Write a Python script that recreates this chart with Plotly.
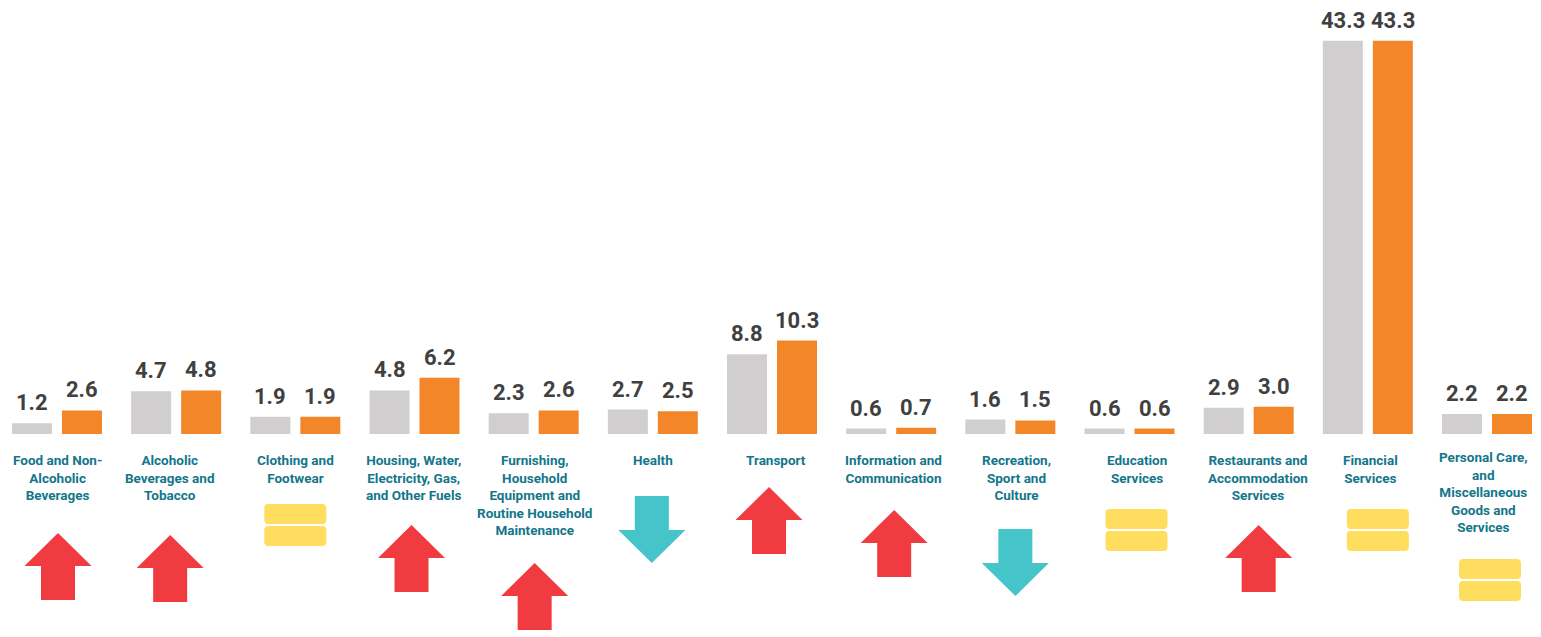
import plotly.graph_objects as go

categories = [
    "Food and Non-<br>Alcoholic<br>Beverages",
    "Alcoholic<br>Beverages and<br>Tobacco",
    "Clothing and<br>Footwear",
    "Housing, Water,<br>Electricity, Gas,<br>and Other Fuels",
    "Furnishing,<br>Household<br>Equipment and<br>Routine Household<br>Maintenance",
    "Health",
    "Transport",
    "Information and<br>Communication",
    "Recreation,<br>Sport and<br>Culture",
    "Education<br>Services",
    "Restaurants and<br>Accommodation<br>Services",
    "Financial<br>Services",
    "Personal Care,<br>and<br>Miscellaneous<br>Goods and<br>Services",
]
previous_values = [1.2, 4.7, 1.9, 4.8, 2.3, 2.7, 8.8, 0.6, 1.6, 0.6, 2.9, 43.3, 2.2]
current_values = [2.6, 4.8, 1.9, 6.2, 2.6, 2.5, 10.3, 0.7, 1.5, 0.6, 3.0, 43.3, 2.2]
directions = ["up", "up", "same", "up", "up", "down", "up", "up", "down", "same", "up", "same", "same"]

# layout-only tuning (pixels)
label_xshift = [0, -6, 0, -1, 1, 0, 4, 2, 6, 7, 9, 3, -4]
label_yshift = [-16, -16, -16, -16, -16, -16, -16, -16, -16, -16, -16, -16, -13]
icon_xshift = [1, -6, 0, -3, 1, -1, -3, 3, 5, 7, 10, 10, 3]
icon_top = [99, 101, 70, 91, 129, 62, 53, 76, 95, 75, 91, 75, 125]

GRAY = "#d0cece"
ORANGE = "#f4862a"
RED = "#f03c40"
TEAL = "#45c4c9"
YELLOW = "#ffdd5f"
LABEL = "#13768a"
VALUE = "#404040"

x = list(range(len(categories)))

fig = go.Figure()
for vals, col, name, side in [(previous_values, GRAY, "Previous", -1), (current_values, ORANGE, "Current", 1)]:
    fig.add_trace(go.Bar(
        x=x, y=vals, name=name, marker=dict(color=col, line=dict(width=0)),
        hoverinfo="skip",
    ))
    for i, v in enumerate(vals):
        fig.add_annotation(
            x=i, y=v, xref="x", yref="y", text=f"{v:.1f}", showarrow=False,
            xanchor="center", yanchor="bottom", xshift=25 * side, yshift=6,
            font=dict(family="Roboto", size=22, color=VALUE, weight="bold"),
        )


def up_arrow(dx, top):
    pts = [(0, -top), (33.5, -top - 33), (17, -top - 33), (17, -top - 67),
           (-17, -top - 67), (-17, -top - 33), (-33.5, -top - 33)]
    return "M " + " L ".join(f"{px + dx},{py}" for px, py in pts) + " Z"


def down_arrow(dx, top):
    pts = [(-17, -top), (17, -top), (17, -top - 34), (33.5, -top - 34), (0, -top - 67),
           (-33.5, -top - 34), (-17, -top - 34)]
    return "M " + " L ".join(f"{px + dx},{py}" for px, py in pts) + " Z"


def rrect(x0, x1, y0, y1, r=4):
    return (f"M {x0 + r},{y0} L {x1 - r},{y0} Q {x1},{y0} {x1},{y0 - r} "
            f"L {x1},{y1 + r} Q {x1},{y1} {x1 - r},{y1} L {x0 + r},{y1} "
            f"Q {x0},{y1} {x0},{y1 + r} L {x0},{y0 - r} Q {x0},{y0} {x0 + r},{y0} Z")


for i, d in enumerate(directions):
    dx = icon_xshift[i]
    top = icon_top[i]
    common = dict(type="path", xref="x", yref="y", xsizemode="pixel", ysizemode="pixel",
                  xanchor=i, yanchor=0, line=dict(width=0), layer="above")
    if d == "up":
        fig.add_shape(path=up_arrow(dx, top), fillcolor=RED, **common)
    elif d == "down":
        fig.add_shape(path=down_arrow(dx, top), fillcolor=TEAL, **common)
    else:
        fig.add_shape(path=rrect(dx - 31, dx + 31, -top, -top - 20), fillcolor=YELLOW, **common)
        fig.add_shape(path=rrect(dx - 31, dx + 31, -top - 22, -top - 42), fillcolor=YELLOW, **common)

for i, lab in enumerate(categories):
    fig.add_annotation(
        x=i, y=0, xref="x", yref="y", text=lab, showarrow=False,
        yanchor="top", xanchor="center", align="center",
        xshift=label_xshift[i], yshift=label_yshift[i],
        font=dict(family="Roboto", size=13.5, color=LABEL, weight="bold"),
    )

# page has an 8px body margin; figure sized/ranged so content lands where the reference has it
fig.update_layout(
    width=1533, height=629,
    margin=dict(l=0, r=0, t=0, b=0),
    paper_bgcolor="white", plot_bgcolor="white",
    barmode="group", bargap=0.161, bargroupgap=0.2,
    showlegend=False,
    xaxis=dict(range=[-0.4112, 12.453], visible=False, fixedrange=True),
    yaxis=dict(range=[-22.35, 46.92], visible=False, fixedrange=True),
)

fig.write_html("out.html")
